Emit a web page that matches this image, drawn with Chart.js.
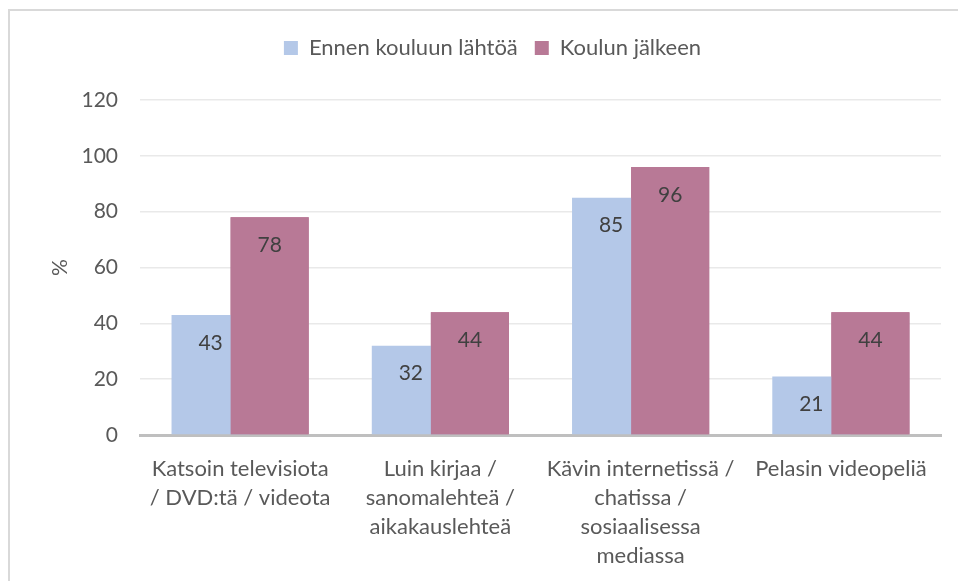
<!DOCTYPE html>
<html lang="fi">
<head>
<meta charset="utf-8">
<title>Ennen kouluun lähtöä / Koulun jälkeen</title>
<script src="https://cdn.jsdelivr.net/npm/chart.js@4/dist/chart.umd.min.js"></script>
<style>
  html, body { margin: 0; padding: 0; background: #fff; overflow: hidden; }
  #frame {
    position: absolute; left: 8px; top: 9px;
    width: 2000px; height: 2000px;
    border: 2px solid #d9d9d9;
  }
  #chart { position: absolute; left: 0; top: 0; }
</style>
</head>
<body>
<div id="frame"></div>
<canvas id="chart" width="958" height="581"></canvas>
<script>
/* DATA */
const categories = [
  ["Katsoin televisiota", "/ DVD:tä / videota"],
  ["Luin kirjaa /", "sanomalehteä /", "aikakauslehteä"],
  ["Kävin internetissä /", "chatissa /", "sosiaalisessa", "mediassa"],
  ["Pelasin videopeliä"]
];
const seriesNames = ["Ennen kouluun lähtöä", "Koulun jälkeen"];
const beforeSchool = [43, 32, 85, 21];
const afterSchool = [78, 44, 96, 44];
const yTicks = [0, 20, 40, 60, 80, 100, 120];
const yTitle = "%";

const FONT = "Lato, 'Open Sans', sans-serif";
const colors = ["#b4c8e8", "#b87996"];

/* PLUGINS */
// Excel draws the second series on top of the first (overlapping bars)
const overlapAndLabels = {
  id: "overlapAndLabels",
  afterDatasetsDraw(chart) {
    const ctx = chart.ctx;
    chart.getDatasetMeta(1).controller.draw();
    ctx.save();
    ctx.font = "21px " + FONT;
    ctx.fillStyle = "#404040";
    ctx.textAlign = "center";
    ctx.textBaseline = "middle";
    [0, 1].forEach(di => {
      const meta = chart.getDatasetMeta(di);
      meta.data.forEach((bar, i) => {
        ctx.fillText(chart.data.datasets[di].data[i], bar.x, bar.y + 28);
      });
    });
    ctx.restore();
  }
};

// extra room under the legend, and legend centred on the whole frame
const legendSpace = {
  id: "legendSpace",
  beforeInit(chart) {
    const lg = chart.legend;
    const fit = lg.fit;
    lg.fit = function () {
      fit.call(this);
      this.height += 31;
    };
    const draw = lg.draw;
    lg.draw = function () {
      this.ctx.save();
      this.ctx.translate(22, 0);
      draw.call(this);
      this.ctx.restore();
    };
  }
};

/* CHART */
new Chart(document.getElementById("chart"), {
  type: "bar",
  data: {
    labels: categories,
    datasets: [
      { label: seriesNames[0], data: beforeSchool, backgroundColor: colors[0] },
      { label: seriesNames[1], data: afterSchool, backgroundColor: colors[1] }
    ]
  },
  options: {
    responsive: false,
    animation: false,
    categoryPercentage: 0.59,
    barPercentage: 1.322,
    layout: { padding: { top: 20, right: 17, left: 0, bottom: 0 } },
    plugins: {
      tooltip: { enabled: false },
      legend: {
        position: "top",
        labels: {
          boxWidth: 14,
          boxHeight: 14,
          padding: 17,
          color: "#595959",
          font: { family: FONT, size: 22 }
        }
      }
    },
    scales: {
      x: {
        grid: { display: false },
        border: { display: true, color: "#bfbfbf", width: 3 },
        ticks: {
          color: "#595959",
          font: { family: FONT, size: 22, lineHeight: 1.32 },
          padding: 11,
          maxRotation: 0,
          autoSkip: false
        },
        afterFit: s => { s.height = 146; }
      },
      y: {
        min: 0,
        max: 120,
        afterBuildTicks: s => { s.ticks = yTicks.map(v => ({ value: v })); },
        grid: { color: "#e9e9e9", lineWidth: 1.5, drawTicks: false },
        border: { display: false },
        ticks: {
          color: "#595959",
          font: { family: FONT, size: 21 },
          padding: 22
        },
        title: {
          display: true,
          text: yTitle,
          color: "#595959",
          font: { family: FONT, size: 21 },
          padding: { top: 48, bottom: 0 }
        },
        afterFit: s => { s.width = 140; }
      }
    }
  },
  plugins: [overlapAndLabels, legendSpace]
});
</script>
</body>
</html>
